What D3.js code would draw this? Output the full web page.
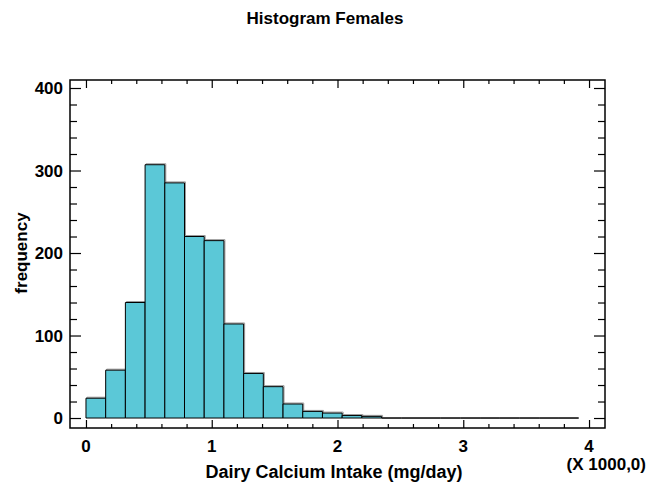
<!DOCTYPE html>
<html>
<head>
<meta charset="utf-8">
<script src="https://cdn.jsdelivr.net/npm/d3@7"></script>
<style>
  body { margin: 0; background: #fff; }
  text { font-family: "Liberation Sans", Arial, sans-serif; font-weight: bold; fill: #000; }
</style>
</head>
<body>
<svg id="chart" width="649" height="486"></svg>
<script>
/* Data */
const binWidth = 156.7;
const counts = [24, 58, 140, 307, 285, 220, 215, 114, 54, 38, 17, 8, 6, 3, 2, 0, 0, 0, 0, 0, 0, 0, 0, 0, 0];
const xTicks = [0, 1000, 2000, 3000, 4000];
const xTickLabels = ['0', '1', '2', '3', '4'];
const yTicks = [0, 100, 200, 300, 400];

const bins = counts.map((c, i) => ({ x0: i * binWidth, x1: (i + 1) * binWidth, count: c }));

/* SVG */
const svg = d3.select('#chart');
const box = { left: 70, right: 605, top: 80, bottom: 428 };

const x = d3.scaleLinear().domain([-127, 4127]).range([box.left, box.right]);
const y = d3.scaleLinear().domain([-12.1, 409.7]).range([box.bottom, box.top]);

/* Title */
svg.append('text')
  .attr('x', 325).attr('y', 24)
  .attr('text-anchor', 'middle')
  .style('font-size', '17px')
  .text('Histogram Females');

/* Bars drawn as closed paths so empty bins still show on the baseline */
const barPath = (d, dx, dy) => {
  const x0 = x(d.x0) + dx, x1 = x(d.x1) + dx, yt = y(d.count) + dy, yb = y(0) + dy;
  return `M${x0},${yb}V${yt}H${x1}V${yb}Z`;
};

const g = svg.append('g');
g.selectAll('path.shadow')
  .data(bins.filter(d => d.count > 0))
  .enter().append('path')
  .attr('class', 'shadow')
  .attr('d', d => barPath(d, 1, -1))
  .attr('fill', 'none')
  .attr('stroke', '#9a9a9a')
  .attr('stroke-width', 1);

g.selectAll('path.bar')
  .data(bins)
  .enter().append('path')
  .attr('class', 'bar')
  .attr('d', d => barPath(d, 0, 0))
  .attr('fill', '#5bc8d7')
  .attr('stroke', '#000')
  .attr('stroke-width', 1);

/* Frame */
svg.append('rect')
  .attr('x', box.left).attr('y', box.top)
  .attr('width', box.right - box.left)
  .attr('height', box.bottom - box.top)
  .attr('fill', 'none')
  .attr('stroke', '#000')
  .attr('stroke-width', 1.5);

/* Ticks (inward on all four sides) */
const xMinor = d3.range(0, 4001, 200).filter(v => v % 1000 !== 0);
const yMinor = d3.range(0, 401, 20).filter(v => v % 100 !== 0);

function addAxis(axis, pos, ticks, size) {
  svg.append('g')
    .attr('transform', pos)
    .call(axis.tickValues(ticks).tickSize(size).tickFormat(''))
    .call(a => a.select('.domain').remove())
    .call(a => a.selectAll('line').attr('stroke', '#000').attr('stroke-width', 1.2));
}
addAxis(d3.axisTop(x), `translate(0,${box.bottom})`, xTicks, 8);
addAxis(d3.axisTop(x), `translate(0,${box.bottom})`, xMinor, 4);
addAxis(d3.axisBottom(x), `translate(0,${box.top})`, xTicks, 8);
addAxis(d3.axisBottom(x), `translate(0,${box.top})`, xMinor, 4);
addAxis(d3.axisRight(y), `translate(${box.left},0)`, yTicks, 11);
addAxis(d3.axisRight(y), `translate(${box.left},0)`, yMinor, 7);
addAxis(d3.axisLeft(y), `translate(${box.right},0)`, yTicks, 11);
addAxis(d3.axisLeft(y), `translate(${box.right},0)`, yMinor, 7);

/* Tick labels */
svg.append('g').selectAll('text')
  .data(xTicks)
  .enter().append('text')
  .attr('x', d => x(d))
  .attr('y', 452)
  .attr('text-anchor', 'middle')
  .style('font-size', '17px')
  .text((d, i) => xTickLabels[i]);

svg.append('g').selectAll('text')
  .data(yTicks)
  .enter().append('text')
  .attr('x', 63)
  .attr('y', d => y(d) + 6)
  .attr('text-anchor', 'end')
  .style('font-size', '17px')
  .text(d => d);

/* Axis titles */
svg.append('text')
  .attr('x', 334).attr('y', 478)
  .attr('text-anchor', 'middle')
  .style('font-size', '18px')
  .text('Dairy Calcium Intake (mg/day)');

svg.append('text')
  .attr('x', 646).attr('y', 470)
  .attr('text-anchor', 'end')
  .style('font-size', '17px')
  .text('(X 1000,0)');

svg.append('text')
  .attr('transform', 'translate(27,253) rotate(-90)')
  .attr('text-anchor', 'middle')
  .style('font-size', '17px')
  .text('frequency');
</script>
</body>
</html>
